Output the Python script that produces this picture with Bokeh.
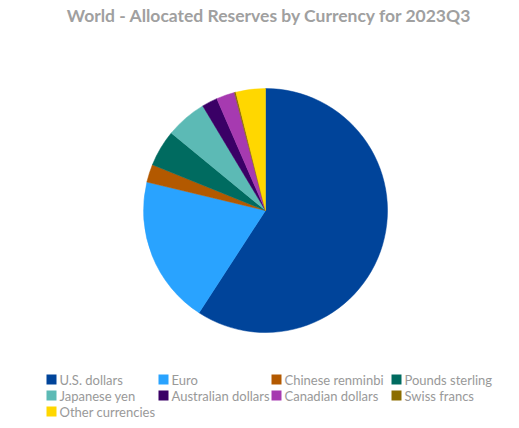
import numpy as np
from bokeh.plotting import figure
from bokeh.models import Range1d, ColumnDataSource
from bokeh.core.properties import value
from bokeh.embed import file_html
from bokeh.resources import INLINE

title = "World - Allocated Reserves by Currency for 2023Q3"
currencies = ["U.S. dollars", "Euro", "Chinese renminbi", "Pounds sterling",
              "Japanese yen", "Australian dollars", "Canadian dollars",
              "Swiss francs", "Other currencies"]
shares = [59.17, 19.58, 2.37, 4.83, 5.45, 2.07, 2.43, 0.20, 3.90]
colors = ["#00449A", "#29A3FF", "#B35900", "#006B60", "#5CBAB5",
          "#3A0066", "#A63AB0", "#8C6D00", "#FFD700"]

W, H = 519, 428
p = figure(width=W, height=H, output_backend="svg", toolbar_location=None,
           x_range=Range1d(0, W), y_range=Range1d(0, H), min_border=0)
p.axis.visible = False
p.grid.visible = False
p.outline_line_color = None
p.background_fill_color = "white"

def px(x):
    return x

def py(y):
    return H - y

vals = np.array(shares, dtype=float)
frac = vals / vals.sum()
cum = np.concatenate([[0], np.cumsum(frac)])
start = np.pi / 2 - 2 * np.pi * cum[:-1]
end = np.pi / 2 - 2 * np.pi * cum[1:]
src = ColumnDataSource(dict(start=start, end=end, color=colors))
p.wedge(x=px(265), y=py(210), radius=122, start_angle="start", end_angle="end",
        direction="clock", fill_color="color", line_color="color", line_width=0.5,
        source=src)

p.text(x=[px(269)], y=[py(15)], text=[title], text_align="center",
       text_baseline="middle", text_font=value("Lato"), text_font_style="bold",
       text_font_size="17.5px", text_color="#a0a0a0")

col_x = [46, 158, 271, 391]
row_y = [379, 395, 411]
lx, ly, tx = [], [], []
for i in range(len(currencies)):
    r, c = divmod(i, 4)
    lx.append(px(col_x[c] + 5))
    ly.append(py(row_y[r]))
    tx.append(px(col_x[c] + 13))
p.rect(x=lx, y=ly, width=10, height=10, fill_color=colors, line_color=None)
p.text(x=tx, y=ly, text=currencies, text_baseline="middle", text_align="left",
       text_font=value("Lato"), text_font_size="13px", text_color="#999999")

open("out.html", "w").write(file_html(p, INLINE))
